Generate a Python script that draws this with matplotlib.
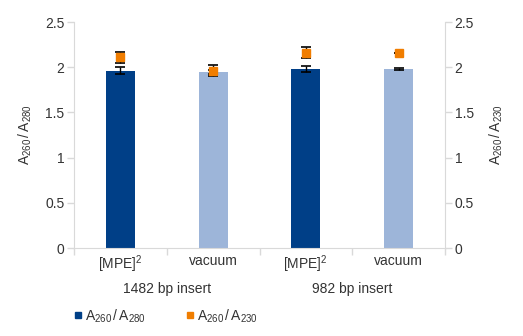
import matplotlib
matplotlib.use("Agg")
import matplotlib.pyplot as plt
from matplotlib.lines import Line2D
import numpy as np

plt.rcParams["font.family"] = ["Liberation Sans", "DejaVu Sans"]
plt.rcParams["mathtext.fontset"] = "custom"
plt.rcParams["mathtext.rm"] = "Liberation Sans"
plt.rcParams["mathtext.it"] = "Liberation Sans"

# --- data ---
categories = ["[MPE]$^2$", "vacuum", "[MPE]$^2$", "vacuum"]
groups = ["1482 bp insert", "982 bp insert"]
ratio_280 = [1.96, 1.95, 1.98, 1.98]
err_280 = [0.04, 0.02, 0.03, 0.015]
ratio_230 = [2.11, 1.96, 2.16, 2.16]
err_230 = [0.06, 0.06, 0.06, 0.0]

DARK = "#003f87"
LIGHT = "#9db5d9"
ORANGE = "#f07d00"
TXT = "#333333"
AXC = "#d9d9d9"

fig = plt.figure(figsize=(5.23, 3.36), dpi=100)
ax = fig.add_axes([74 / 523, 1 - 248 / 336, 371 / 523, 226 / 336])
ax2 = ax.twinx()

x = np.arange(len(categories))
bar_colors = [DARK, LIGHT, DARK, LIGHT]
ax.bar(x, ratio_280, width=0.31, color=bar_colors, zorder=2)
ax.errorbar(x, ratio_280, yerr=err_280, fmt="none", ecolor="black",
            elinewidth=1, capsize=3.3, capthick=1.2, zorder=3)

ax2.errorbar(x, ratio_230, yerr=err_230, fmt="none", ecolor="black",
             elinewidth=1, capsize=3.3, capthick=1.2, zorder=3)
ax2.plot(x, ratio_230, "s", color=ORANGE, markersize=5.5, zorder=4)

for a in (ax, ax2):
    a.set_ylim(0, 2.5)
    a.set_yticks([0, 0.5, 1, 1.5, 2, 2.5])
    a.set_yticklabels(["0", "0.5", "1", "1.5", "2", "2.5"])
    a.set_xlim(-0.5, 3.5)
    for s in a.spines.values():
        s.set_visible(False)
    a.tick_params(axis="y", colors=AXC, labelcolor=TXT, labelsize=10,
                  length=5, width=1, pad=2)

ax.spines["left"].set_visible(True)
ax.spines["left"].set_color(AXC)
ax.spines["bottom"].set_visible(True)
ax.spines["bottom"].set_color(AXC)
ax2.spines["right"].set_visible(True)
ax2.spines["right"].set_color(AXC)

# category separators on the x axis
ax.set_xticks([-0.5, 0.5, 1.5, 2.5, 3.5])
ax.set_xticklabels([])
ax.tick_params(axis="x", colors=AXC, length=5, width=1)
for xi, lab in zip(x, categories):
    ax.text(xi, -0.025, lab, transform=ax.get_xaxis_transform(),
            ha="center", va="top", fontsize=10, color=TXT)
for gi, lab in enumerate(groups):
    ax.text(0.5 + 2 * gi, -0.15, lab, transform=ax.get_xaxis_transform(),
            ha="center", va="top", fontsize=10, color=TXT)

ax.set_ylabel(r"$\mathregular{A_{260}\,/\,A_{280}}$", fontsize=10,
              color=TXT, labelpad=8)
ax2.set_ylabel(r"$\mathregular{A_{260}\,/\,A_{230}}$", fontsize=10,
               color=TXT, labelpad=10, rotation=90)

handles = [
    Line2D([], [], marker="s", linestyle="none", color=DARK, markersize=4.5),
    Line2D([], [], marker="s", linestyle="none", color=ORANGE, markersize=4.5),
]
labels = [r"$\mathregular{A_{260}\,/\,A_{280}}$",
          r"$\mathregular{A_{260}\,/\,A_{230}}$"]
fig.legend(handles, labels, loc="center left", ncol=2, frameon=False,
           bbox_to_anchor=(61 / 523, 1 - 316 / 336), fontsize=10,
           handlelength=0.6, handletextpad=0.2, columnspacing=2.9,
           labelcolor=TXT)

fig.savefig("out.png", dpi=100)
